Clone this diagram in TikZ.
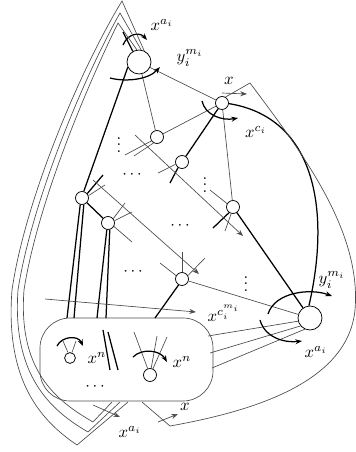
\documentclass[tikz,border=0pt]{standalone}
\usetikzlibrary{arrows.meta}
\begin{document}
\begin{tikzpicture}[x=0.6pt,y=-0.6pt,
  thn/.style={line width=0.4pt,black!70},
  thk/.style={line width=0.75pt,black},
  vtx/.style={circle,draw,line width=0.45pt,fill=white,inner sep=0pt,minimum size=7.8pt},
  bigv/.style={vtx,minimum size=14.4pt},
  tinyv/.style={vtx,minimum size=6.5pt},
  arr/.style={-{Stealth[length=4pt,width=3pt]}},
  lbl/.style={inner sep=0pt}]
\useasboundingbox (0,0) rectangle (356,452);

% vertices
\node[bigv] (A) at (139,62) {};
\node[vtx] (B) at (222,103) {};
\node[vtx] (C) at (157,137) {};
\node[vtx] (D) at (182,162) {};
\node[vtx] (E) at (82,198) {};
\node[vtx] (F) at (108,223) {};
\node[vtx] (G) at (233,207) {};
\node[vtx] (H) at (182,279) {};
\node[bigv] (I) at (310,318) {};

% the rounded box
\draw[thn,rounded corners=18pt] (40,318) rectangle (213,401);
\node[tinyv] (s1) at (70,358) {};
\node[vtx] (s2) at (150,375) {};

% edges among vertices
\draw[thk] (A.205) -- (E.75);
\draw[thn] (A) -- (B);
\draw[thn] (A) -- (C);
\draw[thn] (B) -- (C);
\draw[thn] (C.215) -- (125,155);
\draw[thn] (C.240) -- (134,156);
\draw[thk] (B) -- (D);
\draw[thk] (D.235) -- (170,183);
\draw[thn] (D.200) -- (158,173);
\draw[thn] (B) -- (G);
\draw[thk] (B.-5) .. controls (318,118) and (330,215) .. (I.95);
\draw[thk] (G) -- (I);
\draw[thn] (G.150) -- (210,190);
\draw[thk] (G.235) -- (213,228);
\draw[thn] (G.255) -- (225,231);
\draw[thn] (H) -- (I);
\draw[thk] (H.240) -- (155,318);
\draw[thn] (H.150) -- (160,263);
\draw[thn] (H.90) -- (182,252);
\draw[thn] (H.30) -- (205,258);
\draw[thk] (E) -- (F);
\draw[thk] (E.40) -- (103,175);
\draw[thn] (E.20) -- (105,185);
\draw[thk] (E.255) -- (67,318);
\draw[thk] (E.285) -- (74,318);
\draw[thk] (F.260) -- (97,318);
\draw[thk] (F.285) -- (106,318);
\draw[thn] (F.40) -- (125,203);
\draw[thn] (F.20) -- (132,212);
\draw[thn] (F.-30) -- (132,242);
\draw[thn] (I.195) -- (208,336);
\draw[thn] (I.220) -- (210,353);
\draw[thn] (I.245) -- (212,368);

% long arrows
\draw[thn,arr] (135,135) -- (243,236);
\draw[thn,arr] (93,180) -- (199,274);
\draw[thn,arr] (45,299) -- (196,312);

% turning arrows
\draw[thk,arr] (123,45) .. controls (128,33) and (140,32) .. (147,40);
\draw[thk,arr] (110,78) .. controls (125,82) and (148,80) .. (160,67);
\draw[thk,arr] (202,101) .. controls (205,115) and (222,121) .. (238,118);
\draw[thk,arr] (268,314) .. controls (275,292) and (310,288) .. (332,296);
\draw[thk,arr] (260,320) .. controls (265,338) and (285,343) .. (302,341);
\draw[thn,arr] (222,93) -- (247,94);

% inside the box
\draw[thn] (s1.110) -- (63,341);
\draw[thn] (s1.70) -- (76,341);
\draw[thk,arr] (57,346) .. controls (62,336) and (78,335) .. (83,346);
\draw[thk] (103,330) -- (110,370);
\draw[thk] (108,332) -- (118,370);
\draw[thn] (s2.110) -- (134,332);
\draw[thn] (s2.80) -- (157,336);
\draw[thn] (s2.65) -- (167,337);
\draw[thk,arr] (133,357) .. controls (142,348) and (160,350) .. (167,362);

% outer loops on the left
\draw[thn] (A.65) -- (122,1) .. controls (80,70) and (25,200) .. (12,290)
  .. controls (5,380) and (40,420) .. (77,445) -- (128,402);
\draw[thn] (A.80) -- (120,13) .. controls (85,75) and (32,200) .. (18,290)
  .. controls (12,375) and (50,410) .. (88,432) -- (120,402);
\draw[thn] (A.100) -- (118,23) .. controls (90,80) and (38,200) .. (24,290)
  .. controls (18,370) and (55,400) .. (93,422) -- (112,402);
\draw[thk] (A.120) -- (123,32);

% outer loop on the right
\draw[thn] (B.60) -- (250,83) .. controls (300,150) and (362,230) .. (355,310)
  .. controls (348,380) and (260,410) .. (170,426) -- (142,402);

\draw[thn,arr] (93,405) -- (120,417);
\draw[thn,arr] (158,422) -- (178,414);

% labels
\node[lbl] at (162,25) {$x^{a_i}$};
\node[lbl] at (190,58) {$y_i^{m_i}$};
\node[lbl] at (229,81) {$x$};
\node[lbl] at (256,132) {$x^{c_i}$};
\node[lbl] at (332,280) {$y_i^{m_i}$};
\node[lbl] at (224,313) {$x^{c_i^{m_i}}$};
\node[lbl] at (316,352) {$x^{a_i}$};
\node[lbl] at (97,358) {$x^n$};
\node[lbl] at (182,362) {$x^n$};
\node[lbl] at (95,387) {$\cdots$};
\node[lbl] at (130,432) {$x^{a_i}$};
\node[lbl] at (185,407) {$x$};
\node[lbl] at (119,140) {$\vdots$};
\node[lbl] at (132,175) {$\cdots$};
\node[lbl] at (205,180) {$\vdots$};
\node[lbl] at (180,226) {$\cdots$};
\node[lbl] at (133,272) {$\cdots$};
\node[lbl] at (246,279) {$\vdots$};
\end{tikzpicture}
\end{document}
